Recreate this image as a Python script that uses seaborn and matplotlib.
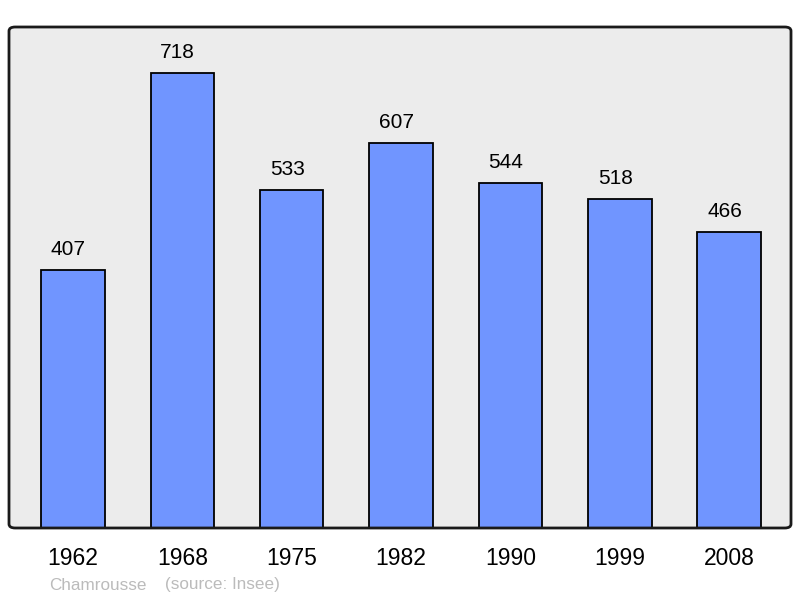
import matplotlib
matplotlib.use("Agg")
import matplotlib.pyplot as plt
import seaborn as sns
import pandas as pd
from matplotlib.patches import FancyBboxPatch

years = ["1962", "1968", "1975", "1982", "1990", "1999", "2008"]
population = [407, 718, 533, 607, 544, 518, 466]
footer_name = "Chamrousse"
footer_source = "(source: Insee)"

sns.set_theme(style="white")
plt.rcParams['font.family'] = ['Liberation Sans', 'DejaVu Sans']

df = pd.DataFrame({"year": years, "pop": population})

fig = plt.figure(figsize=(8.0, 5.98), dpi=100)
ax = fig.add_axes([9/800, 1 - 528/598, 782/800, 501/598])
ax.set_facecolor("#ececec")

sns.barplot(data=df, x="year", y="pop", color="#7095ff", saturation=1,
            width=0.58, edgecolor="black", linewidth=1.3, ax=ax)

ax.set_xlim(-0.585, 6.565)
ax.set_ylim(0, 790)
for i, v in enumerate(population):
    ax.annotate(str(v), (i, v), xytext=(-3.3, 10.8), textcoords="offset points",
                ha="center", va="baseline", fontsize=15, color="black")

ax.set_yticks([])
ax.set_xlabel("")
ax.set_ylabel("")
ax.tick_params(axis="x", length=0, pad=14, labelsize=16.5, labelcolor="black")
for s in ax.spines.values():
    s.set_visible(False)

frame = FancyBboxPatch((0, 0), 1, 1, boxstyle="round,pad=0,rounding_size=0.008",
                       transform=ax.transAxes, fill=False, edgecolor="#1a1a1a",
                       linewidth=2.0, clip_on=False, zorder=5)
ax.add_patch(frame)

fig.text(49/800, 1 - 585/598, footer_name, fontsize=12.3, color="#bbbbbb",
         ha="left", va="center")
fig.text(165/800, 1 - 585/598, footer_source, fontsize=12.3, color="#bbbbbb",
         ha="left", va="center")

fig.savefig("out.png", dpi=100, facecolor="white")
